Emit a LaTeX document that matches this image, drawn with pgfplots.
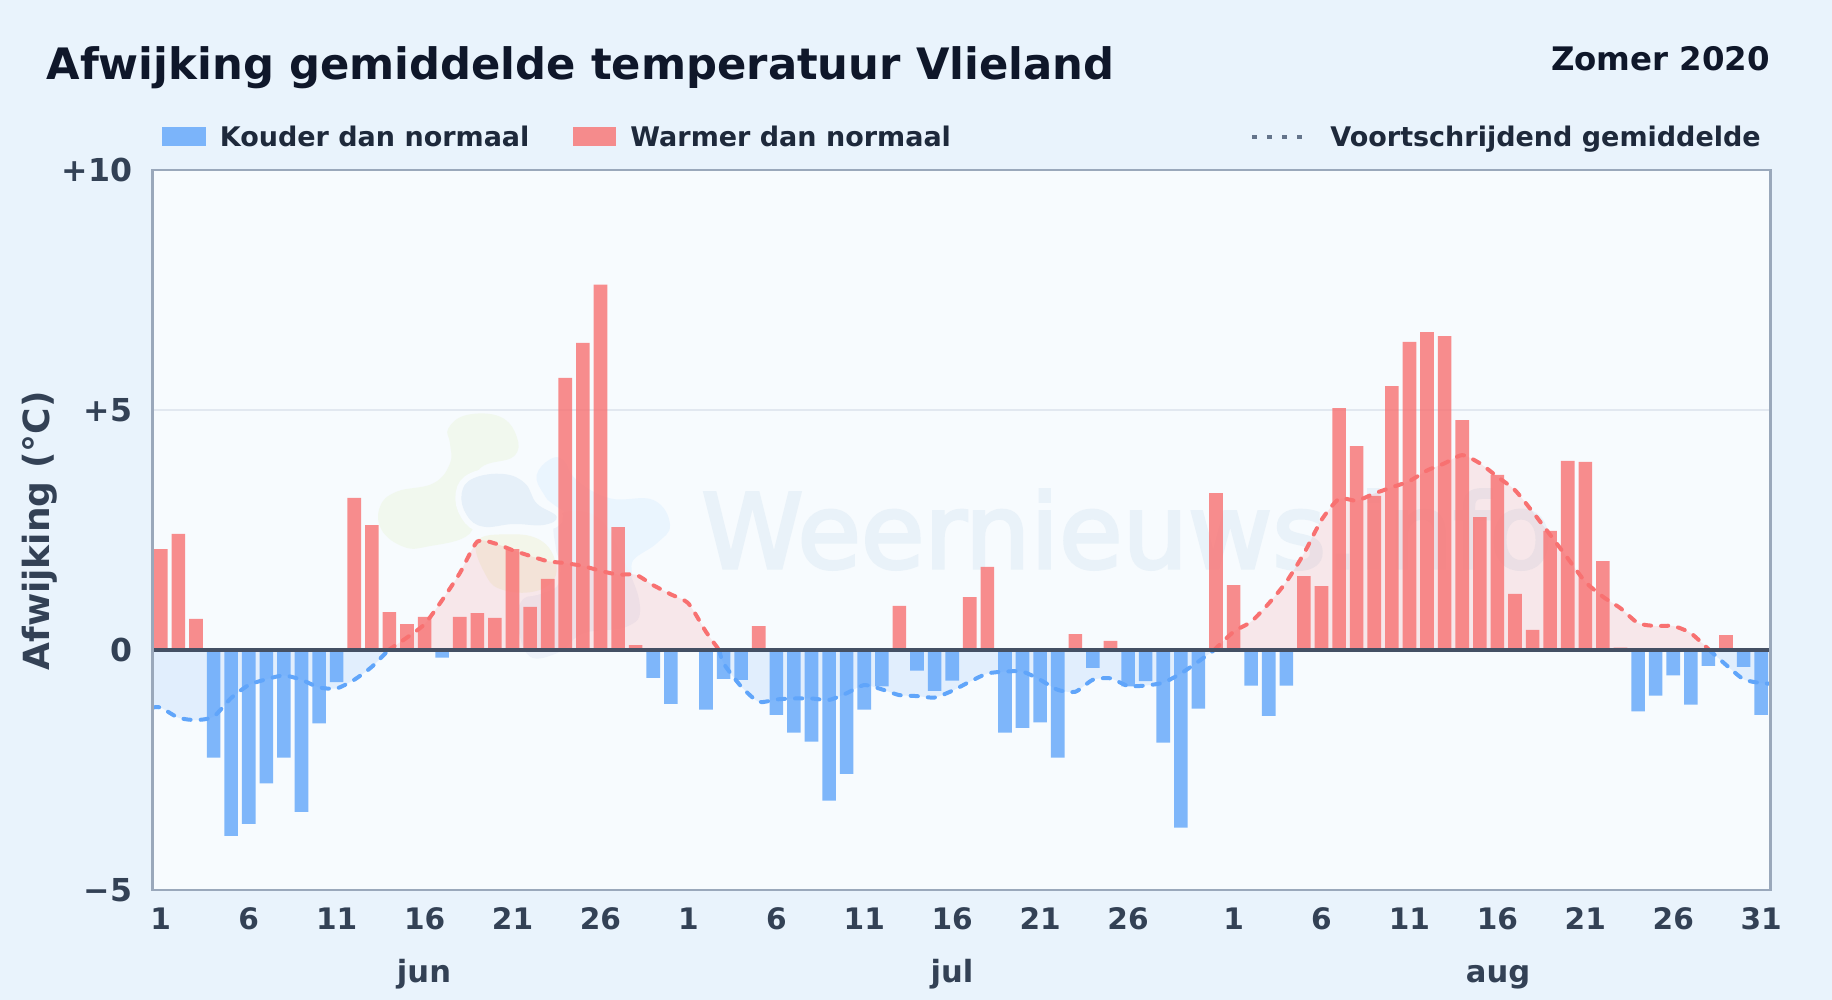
\documentclass[border=0pt]{standalone}
\usepackage{pgfplots}
\usepackage{pgfplotstable}
\pgfplotsset{compat=1.18}
\usepackage{fontspec}
\setmainfont{DejaVu Sans}
\newfontfamily\wmfont[FakeBold=3]{DejaVu Sans}
\definecolor{pagebg}{HTML}{E9F3FC}
\definecolor{plotbg}{HTML}{F7FBFE}
\definecolor{tblue}{HTML}{60A5FA}
\definecolor{tred}{HTML}{F87171}
\definecolor{inkc}{HTML}{0F172A}
\definecolor{legc}{HTML}{1E293B}
\definecolor{tickc}{HTML}{334155}
\definecolor{zeroc}{HTML}{445064}
\definecolor{framec}{HTML}{9AA8BB}
\definecolor{gridc}{HTML}{E2E8F0}
\definecolor{wmc}{HTML}{E9F2F9}
\pgfplotstableread{
x y
1 2.10
2 2.42
3 0.65
12 3.17
13 2.60
14 0.79
15 0.54
16 0.69
18 0.69
19 0.77
20 0.67
21 2.10
22 0.90
23 1.48
24 5.67
25 6.40
26 7.61
27 2.56
28 0.10
35 0.50
43 0.92
47 1.10
48 1.73
53 0.33
55 0.19
61 3.27
62 1.35
66 1.54
67 1.33
68 5.04
69 4.25
70 3.21
71 5.50
72 6.42
73 6.62
74 6.54
75 4.79
76 2.77
77 3.65
78 1.17
79 0.42
80 2.48
81 3.94
82 3.92
83 1.85
84 0.05
90 0.31
}\warm
\pgfplotstableread{
x y
4 -2.24
5 -3.87
6 -3.62
7 -2.78
8 -2.24
9 -3.37
10 -1.53
11 -0.67
17 -0.16
29 -0.58
30 -1.12
32 -1.24
33 -0.60
34 -0.62
36 -1.35
37 -1.72
38 -1.91
39 -3.14
40 -2.58
41 -1.24
42 -0.76
44 -0.43
45 -0.85
46 -0.64
49 -1.72
50 -1.62
51 -1.51
52 -2.24
54 -0.37
56 -0.76
57 -0.65
58 -1.93
59 -3.70
60 -1.22
63 -0.74
64 -1.37
65 -0.74
85 -1.28
86 -0.95
87 -0.53
88 -1.14
89 -0.33
91 -0.35
92 -1.35
}\cold
\pgfplotstableread{
x y
0.5 -1.20
1 -1.20
2 -1.41
3 -1.46
4 -1.39
5 -1.00
6 -0.73
7 -0.61
8 -0.53
9 -0.62
10 -0.78
11 -0.80
12 -0.62
13 -0.35
13.95 0
}\negA
\pgfplotstableread{
x y
13.95 0
15 0.26
16 0.54
17 1.04
18 1.60
19 2.26
20 2.22
21 2.08
22 1.96
23 1.85
24 1.81
25 1.75
26 1.65
27 1.57
28 1.57
29 1.35
30 1.16
31 0.97
32 0.38
32.75 0
}\posA
\pgfplotstableread{
x y
32.75 0
33 -0.28
34 -0.76
35 -1.08
36 -1.03
37 -1.01
38 -1.01
39 -1.04
40 -0.90
41 -0.73
42 -0.82
43 -0.94
44 -0.96
45 -0.99
46 -0.85
47 -0.66
48 -0.49
49 -0.45
50 -0.45
51 -0.62
52 -0.83
53 -0.87
54 -0.62
55 -0.59
56 -0.75
57 -0.74
58 -0.68
59 -0.49
60 -0.24
60.9 0
}\negB
\pgfplotstableread{
x y
60.9 0
62 0.38
63 0.59
64 0.97
65 1.42
66 2.01
67 2.71
68 3.15
69 3.11
70 3.26
71 3.39
72 3.52
73 3.74
74 3.89
75 4.06
76 3.89
77 3.61
78 3.33
79 2.88
80 2.40
81 1.91
82 1.42
83 1.11
84 0.87
85 0.56
86 0.50
87 0.50
88 0.35
89.05 0
}\posB
\pgfplotstableread{
x y
89.05 0
90 -0.31
91 -0.61
92 -0.69
92.5 -0.70
}\negC
\begin{document}
\begin{tikzpicture}
% page and plot backgrounds (1 px = 0.5 pt, origin at the top left)
\fill[pagebg] (0pt,0pt) rectangle (916pt,-500pt);
\fill[plotbg] (76pt,-85pt) rectangle (885pt,-445pt);
% watermark
\node[anchor=base west,inner sep=0pt,text=wmc,font=\wmfont\fontsize{51.6}{60}\selectfont] at (350.5pt,-284pt) {Weernieuws.info};
\begin{scope}[shift={(185pt,-200pt)},x=0.16667pt,y=-0.16667pt]
\fill[color={rgb,255:red,241;green,248;blue,238}] plot[smooth cycle,tension=0.7] coordinates {(235,85)(290,45)(390,50)(440,110)(430,170)(330,205)(300,300)(300,400)(170,440)(100,440)(35,390)(30,320)(80,275)(190,250)(240,190)(240,130)};
\fill[color={rgb,255:red,234;green,245;blue,254}] plot[smooth cycle,tension=0.7] coordinates {(500,225)(540,178)(580,180)(620,240)(720,295)(850,300)(900,375)(860,430)(790,480)(780,530)(700,410)(560,320)(520,280)};
\fill[color={rgb,255:red,237;green,242;blue,250}] plot[smooth cycle,tension=0.7] coordinates {(560,350)(680,350)(760,480)(810,620)(770,680)(640,700)(560,760)(470,760)(450,610)(560,560)(560,470)};
\path[preaction={draw=plotbg,line width=4pt},fill={rgb,255:red,243;green,246;blue,234}] plot[smooth cycle,tension=0.7] coordinates {(320,425)(420,403)(510,420)(555,480)(550,540)(490,575)(400,570)(350,530)};
\path[preaction={draw=plotbg,line width=6pt},fill={rgb,255:red,230;green,240;blue,249}] plot[smooth cycle,tension=0.7] coordinates {(275,280)(310,235)(400,222)(465,250)(500,310)(560,350)(520,375)(430,372)(340,380)(290,345)};
\end{scope}
\begin{axis}[
  at={(76pt,-445pt)},anchor=south west,
  scale only axis,width=809pt,height=360pt,
  xmin=0.5,xmax=92.5,ymin=-5,ymax=10,
  axis line style={draw=none},
  major tick length=0pt,
  xtick={1,6,11,16,21,26,31,36,41,46,51,56,62,67,72,77,82,87,92},
  xticklabels={1,6,11,16,21,26,1,6,11,16,21,26,1,6,11,16,21,26,31},
  ytick={-5,0,5,10},
  yticklabels={−5,0,+5,+10},
  ymajorgrids=true,
  grid style={color=gridc,line width=0.75pt},
  xticklabel style={font=\fontsize{14.8}{16}\bfseries\selectfont,text=tickc,anchor=base,inner sep=0pt,yshift=-19.8pt},
  yticklabel style={font=\fontsize{15.8}{18}\bfseries\selectfont,text=tickc,anchor=east,inner sep=0pt,xshift=-9.8pt,yshift=-2.1pt},
  xticklabel shift=0pt,yticklabel shift=0pt,
  typeset ticklabels with strut=false,
]
\addplot[fill=tblue,fill opacity=0.14,draw=none,smooth,tension=0.4] table[x=x,y=y] {\negA} \closedcycle;
\addplot[fill=tred,fill opacity=0.14,draw=none,smooth,tension=0.4] table[x=x,y=y] {\posA} \closedcycle;
\addplot[fill=tblue,fill opacity=0.14,draw=none,smooth,tension=0.4] table[x=x,y=y] {\negB} \closedcycle;
\addplot[fill=tred,fill opacity=0.14,draw=none,smooth,tension=0.4] table[x=x,y=y] {\posB} \closedcycle;
\addplot[fill=tblue,fill opacity=0.14,draw=none,smooth,tension=0.4] table[x=x,y=y] {\negC} \closedcycle;
\addplot[ybar,bar width=6.8pt,bar shift=0pt,fill=tred,fill opacity=0.8,draw=none] table[x=x,y=y] {\warm};
\addplot[ybar,bar width=6.8pt,bar shift=0pt,fill=tblue,fill opacity=0.8,draw=none] table[x=x,y=y] {\cold};
\addplot[color=tblue,line width=2pt,smooth,tension=0.4,line cap=round,dash pattern=on 3.6pt off 5pt] table[x=x,y=y] {\negA};
\addplot[color=tred,line width=2pt,smooth,tension=0.4,line cap=round,dash pattern=on 3.6pt off 5pt] table[x=x,y=y] {\posA};
\addplot[color=tblue,line width=2pt,smooth,tension=0.4,line cap=round,dash pattern=on 3.6pt off 5pt] table[x=x,y=y] {\negB};
\addplot[color=tred,line width=2pt,smooth,tension=0.4,line cap=round,dash pattern=on 3.6pt off 5pt] table[x=x,y=y] {\posB};
\addplot[color=tblue,line width=2pt,smooth,tension=0.4,line cap=round,dash pattern=on 3.6pt off 5pt] table[x=x,y=y] {\negC};
\addplot[color=zeroc,line width=2.2pt] coordinates {(0.5,0) (92.5,0)};
\end{axis}
\draw[color=framec,line width=1.3pt] (76.2pt,-85pt) rectangle (885.2pt,-445pt);
% titles
\node[anchor=base west,inner sep=0pt,text=inkc,font=\fontsize{21.65}{24}\bfseries\selectfont] at (23.1pt,-40pt) {Afwijking gemiddelde temperatuur Vlieland};
\node[anchor=base east,inner sep=0pt,text=inkc,font=\fontsize{16.2}{18}\bfseries\selectfont] at (885.2pt,-35.5pt) {Zomer 2020};
% legend
\fill[tblue,fill opacity=0.8] (81pt,-63.5pt) rectangle (103pt,-73pt);
\node[anchor=base west,inner sep=0pt,text=legc,font=\fontsize{13.5}{16}\bfseries\selectfont] at (109.7pt,-73.2pt) {Kouder dan normaal};
\fill[tred,fill opacity=0.8] (286.5pt,-63.5pt) rectangle (308pt,-73pt);
\node[anchor=base west,inner sep=0pt,text=legc,font=\fontsize{13.5}{16}\bfseries\selectfont] at (315pt,-73.2pt) {Warmer dan normaal};
\draw[color={rgb,255:red,100;green,116;blue,139},line width=2.4pt,dash pattern=on 2.4pt off 5.1pt] (626pt,-68.5pt) -- (654pt,-68.5pt);
\node[anchor=base west,inner sep=0pt,text=legc,font=\fontsize{13.5}{16}\bfseries\selectfont] at (665pt,-73.2pt) {Voortschrijdend gemiddelde};
% axis title and month names
\node[rotate=90,anchor=center,inner sep=0pt,text=tickc,font=\fontsize{18}{20}\bfseries\selectfont] at (20pt,-265.5pt) {Afwijking (°C)};
\node[anchor=base,inner sep=0pt,text=tickc,font=\fontsize{15.3}{17}\bfseries\selectfont] at (212pt,-491pt) {jun};
\node[anchor=base,inner sep=0pt,text=tickc,font=\fontsize{15.3}{17}\bfseries\selectfont] at (476pt,-491pt) {jul};
\node[anchor=base,inner sep=0pt,text=tickc,font=\fontsize{15.3}{17}\bfseries\selectfont] at (749pt,-491pt) {aug};
\end{tikzpicture}
\end{document}
